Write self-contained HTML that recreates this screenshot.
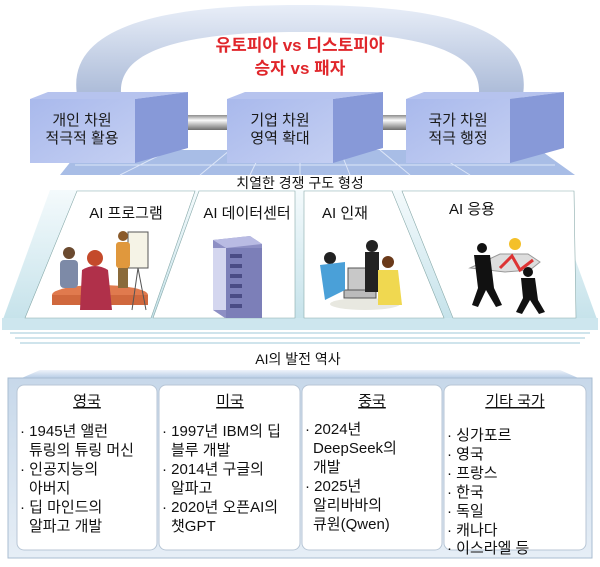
<!DOCTYPE html>
<html><head><meta charset="utf-8"><style>
body{margin:0;width:600px;height:562px;background:#fff;overflow:hidden;font-family:"Liberation Sans","Noto Sans CJK KR",sans-serif}
svg text{font-family:"Liberation Sans","Noto Sans CJK KR",sans-serif}
</style></head><body>
<svg width="600" height="562" viewBox="0 0 600 562" xmlns="http://www.w3.org/2000/svg">
<defs>
<linearGradient id="arch" x1="0" y1="0" x2="0" y2="1"><stop offset="0" stop-color="#e8eef8"/><stop offset="1" stop-color="#a8b8d6"/></linearGradient>
<linearGradient id="pipe" x1="0" y1="0" x2="0" y2="1"><stop offset="0" stop-color="#8c8c8c"/><stop offset=".35" stop-color="#fafafa"/><stop offset="1" stop-color="#6d6d6d"/></linearGradient>
<linearGradient id="front" x1="0" y1="0" x2="1" y2="1"><stop offset="0" stop-color="#a9b9ec"/><stop offset="1" stop-color="#c4cff2"/></linearGradient>
<linearGradient id="band" x1="0" y1="0" x2="0" y2="1"><stop offset="0" stop-color="#eef3fa"/><stop offset="1" stop-color="#8eb0d6"/></linearGradient>
<linearGradient id="frame" x1="0" y1="0" x2="0" y2="1"><stop offset="0" stop-color="#c7d8ea"/><stop offset="1" stop-color="#e6eef6"/></linearGradient>
<linearGradient id="panelbg" x1="0" y1="0" x2="0" y2="1"><stop offset="0" stop-color="#f4fafc"/><stop offset="1" stop-color="#c5e2ea"/></linearGradient>
</defs>
<path d="M78 100 C 60 20, 180 5, 300 5 C 420 5, 540 20, 522 100 L 478 100 C 490 45, 400 32, 300 32 C 200 32, 110 45, 122 100 Z" fill="url(#arch)"/>
<text x="300" y="51" font-size="17" font-weight="bold" fill="#e0262b" text-anchor="middle">유토피아 vs 디스토피아</text>
<text x="300" y="74" font-size="17" font-weight="bold" fill="#e0262b" text-anchor="middle">승자 vs 패자</text>
<polygon points="80,150 540,150 575,175 60,175" fill="#a8bde6"/>
<g stroke="#dde6f8" stroke-width="1">
<line x1="120" y1="175" x2="170" y2="150"/><line x1="200" y1="175" x2="230" y2="150"/><line x1="250" y1="175" x2="262" y2="150"/><line x1="300" y1="175" x2="300" y2="150"/><line x1="350" y1="175" x2="340" y2="150"/><line x1="410" y1="175" x2="380" y2="150"/><line x1="470" y1="175" x2="430" y2="150"/><line x1="75" y1="165" x2="555" y2="165"/>
</g>
<rect x="150" y="115" width="85" height="15" rx="7" fill="url(#pipe)"/>
<rect x="335" y="115" width="80" height="15" rx="7" fill="url(#pipe)"/>
<g>
<polygon points="30,99 48,92 188,92 135,99" fill="#b6c3ee"/>
<polygon points="135,99 188,92 188,148 135,163" fill="#8799d8"/>
<rect x="30" y="99" width="105" height="64" fill="url(#front)"/>
<polygon points="227,99 245,92 383,92 333,99" fill="#b6c3ee"/>
<polygon points="333,99 383,92 383,148 333,163" fill="#8799d8"/>
<rect x="227" y="99" width="106" height="64" fill="url(#front)"/>
<polygon points="406,99 424,92 564,92 510,99" fill="#b6c3ee"/>
<polygon points="510,99 564,92 564,148 510,163" fill="#8799d8"/>
<rect x="406" y="99" width="104" height="64" fill="url(#front)"/>
</g>
<g font-size="15" fill="#1a1a1a" text-anchor="middle">
<text x="82" y="125">개인 차원</text><text x="82" y="143">적극적 활용</text>
<text x="280" y="125">기업 차원</text><text x="280" y="143">영역 확대</text>
<text x="458" y="125">국가 차원</text><text x="458" y="143">적극 행정</text>
</g>
<text x="300" y="188" font-size="14" fill="#111" text-anchor="middle">치열한 경쟁 구도 형성</text>
<polygon points="50,190 550,190 598,322 2,322" fill="url(#panelbg)"/>
<rect x="2" y="318" width="596" height="12" fill="#cde6ee"/>
<g stroke="#cfe4ec" stroke-width="2"><line x1="10" y1="333" x2="590" y2="333"/><line x1="15" y1="338" x2="585" y2="338"/><line x1="20" y1="343" x2="580" y2="343"/></g>
<polygon points="77,191 195,191 151,318 25,318" fill="#fff" stroke="#8aa" stroke-width="0.6"/>
<polygon points="199,191 295,191 295,318 153,318" fill="#fff" stroke="#8aa" stroke-width="0.6"/>
<polygon points="304,191 392,191 444,318 304,318" fill="#fff" stroke="#8aa" stroke-width="0.6"/>
<polygon points="402,191 574,191 576,318 453,318" fill="#fff" stroke="#8aa" stroke-width="0.6"/>
<g font-size="15" fill="#111" text-anchor="middle">
<text x="126" y="218">AI 프로그램</text><text x="247" y="218">AI 데이터센터</text><text x="345" y="218">AI 인재</text><text x="472" y="214">AI 응용</text>
</g>
<g>
<ellipse cx="100" cy="295" rx="48" ry="10" fill="#e07a4e"/>
<rect x="52" y="295" width="96" height="10" fill="#d0683d"/>
<circle cx="69" cy="253" r="6" fill="#6b4a2f"/><rect x="60" y="260" width="18" height="28" rx="4" fill="#7d8aa7"/>
<circle cx="95" cy="258" r="8" fill="#c44a2b"/><path d="M82 270 Q95 262 108 270 L112 310 L80 310Z" fill="#b0304a"/>
<rect x="128" y="232" width="20" height="36" fill="#f5f3e6" stroke="#555"/><line x1="138" y1="268" x2="132" y2="310" stroke="#555"/><line x1="138" y1="268" x2="146" y2="310" stroke="#555"/>
<circle cx="123" cy="236" r="5" fill="#8a5a2a"/><rect x="116" y="242" width="14" height="26" rx="3" fill="#e0983d"/><rect x="118" y="268" width="10" height="20" fill="#8a6a3a"/>
</g>
<g>
<polygon points="213,240 250,236 262,244 262,312 225,318 213,310" fill="#8d8fc4"/>
<polygon points="213,240 250,236 262,244 226,248" fill="#b9bbe3"/>
<rect x="213" y="248" width="13" height="62" fill="#d4d6ef"/>
<rect x="226" y="248" width="36" height="70" fill="#7c7fb8"/>
<g fill="#4a4c85"><rect x="230" y="254" width="12" height="4"/><rect x="230" y="264" width="12" height="4"/><rect x="230" y="274" width="12" height="4"/><rect x="230" y="284" width="12" height="4"/><rect x="230" y="294" width="12" height="4"/><rect x="230" y="304" width="12" height="4"/></g>
</g>
<g>
<ellipse cx="365" cy="304" rx="35" ry="6" fill="#e8e8e0"/>
<rect x="348" y="268" width="24" height="22" fill="#c8c8c8" stroke="#555"/><rect x="344" y="290" width="32" height="8" fill="#bbb" stroke="#555"/>
<circle cx="330" cy="258" r="6" fill="#222"/><path d="M320 265 L345 262 L345 290 L325 300Z" fill="#4aa0d8"/>
<circle cx="372" cy="246" r="6" fill="#222"/><rect x="365" y="252" width="14" height="40" fill="#222"/>
<circle cx="388" cy="262" r="6" fill="#6b3a1a"/><path d="M378 270 L398 270 L402 305 L378 305Z" fill="#f0d850"/>
</g>
<g>
<circle cx="515" cy="244" r="6" fill="#f4c02a"/>
<path d="M470 268 L500 254 L528 254 L540 262 L530 270 L505 272 Z" fill="#ddd" stroke="#999"/>
<polyline points="500,268 512,256 520,270 533,260" fill="none" stroke="#d33" stroke-width="3"/>
<g fill="#111"><circle cx="482" cy="248" r="5"/><path d="M474 255 L490 255 L494 288 L502 305 L496 307 L486 290 L478 307 L472 305 L478 288Z"/>
<circle cx="528" cy="272" r="5"/><path d="M521 278 L535 278 L538 300 L545 312 L539 314 L530 300 L522 314 L516 312 L523 298Z"/></g>
</g>
<text x="298" y="364" font-size="14" fill="#111" text-anchor="middle">AI의 발전 역사</text>
<polygon points="40,370 560,370 592,384 8,384" fill="url(#band)"/>
<rect x="8" y="378" width="584" height="180" fill="url(#frame)" stroke="#a9bdd2"/>
<g fill="#fff" stroke="#b8c6d6" stroke-width="1">
<rect x="17" y="385" width="140" height="165" rx="7"/>
<rect x="159" y="385" width="141" height="165" rx="7"/>
<rect x="302" y="385" width="140" height="165" rx="7"/>
<rect x="444" y="385" width="142" height="165" rx="7"/>
</g>
<g font-size="15" fill="#111" text-anchor="middle" text-decoration="underline">
<text x="87" y="406">영국</text><text x="230" y="406">미국</text><text x="372" y="406">중국</text><text x="515" y="406">기타 국가</text>
</g>
<g font-size="15" fill="#111">
<text x="20" y="436">· 1945년 앨런</text><text x="29" y="455">튜링의 튜링 머신</text><text x="20" y="474">· 인공지능의</text><text x="29" y="493">아버지</text><text x="20" y="512">· 딥 마인드의</text><text x="29" y="531">알파고 개발</text>
<text x="162" y="436">· 1997년 IBM의 딥</text><text x="171" y="455">블루 개발</text><text x="162" y="474">· 2014년 구글의</text><text x="171" y="493">알파고</text><text x="162" y="512">· 2020년 오픈AI의</text><text x="171" y="531">챗GPT</text>
<text x="305" y="434">·  2024년</text><text x="313" y="453">DeepSeek의</text><text x="313" y="472">개발</text><text x="305" y="491">· 2025년</text><text x="313" y="510">알리바바의</text><text x="313" y="529">큐원(Qwen)</text>
<text x="447" y="440">· 싱가포르</text><text x="447" y="459">· 영국</text><text x="447" y="478">· 프랑스</text><text x="447" y="497">· 한국</text><text x="447" y="516">· 독일</text><text x="447" y="535">· 캐나다</text><text x="447" y="553">· 이스라엘 등</text>
</g>
</svg>
</body></html>
